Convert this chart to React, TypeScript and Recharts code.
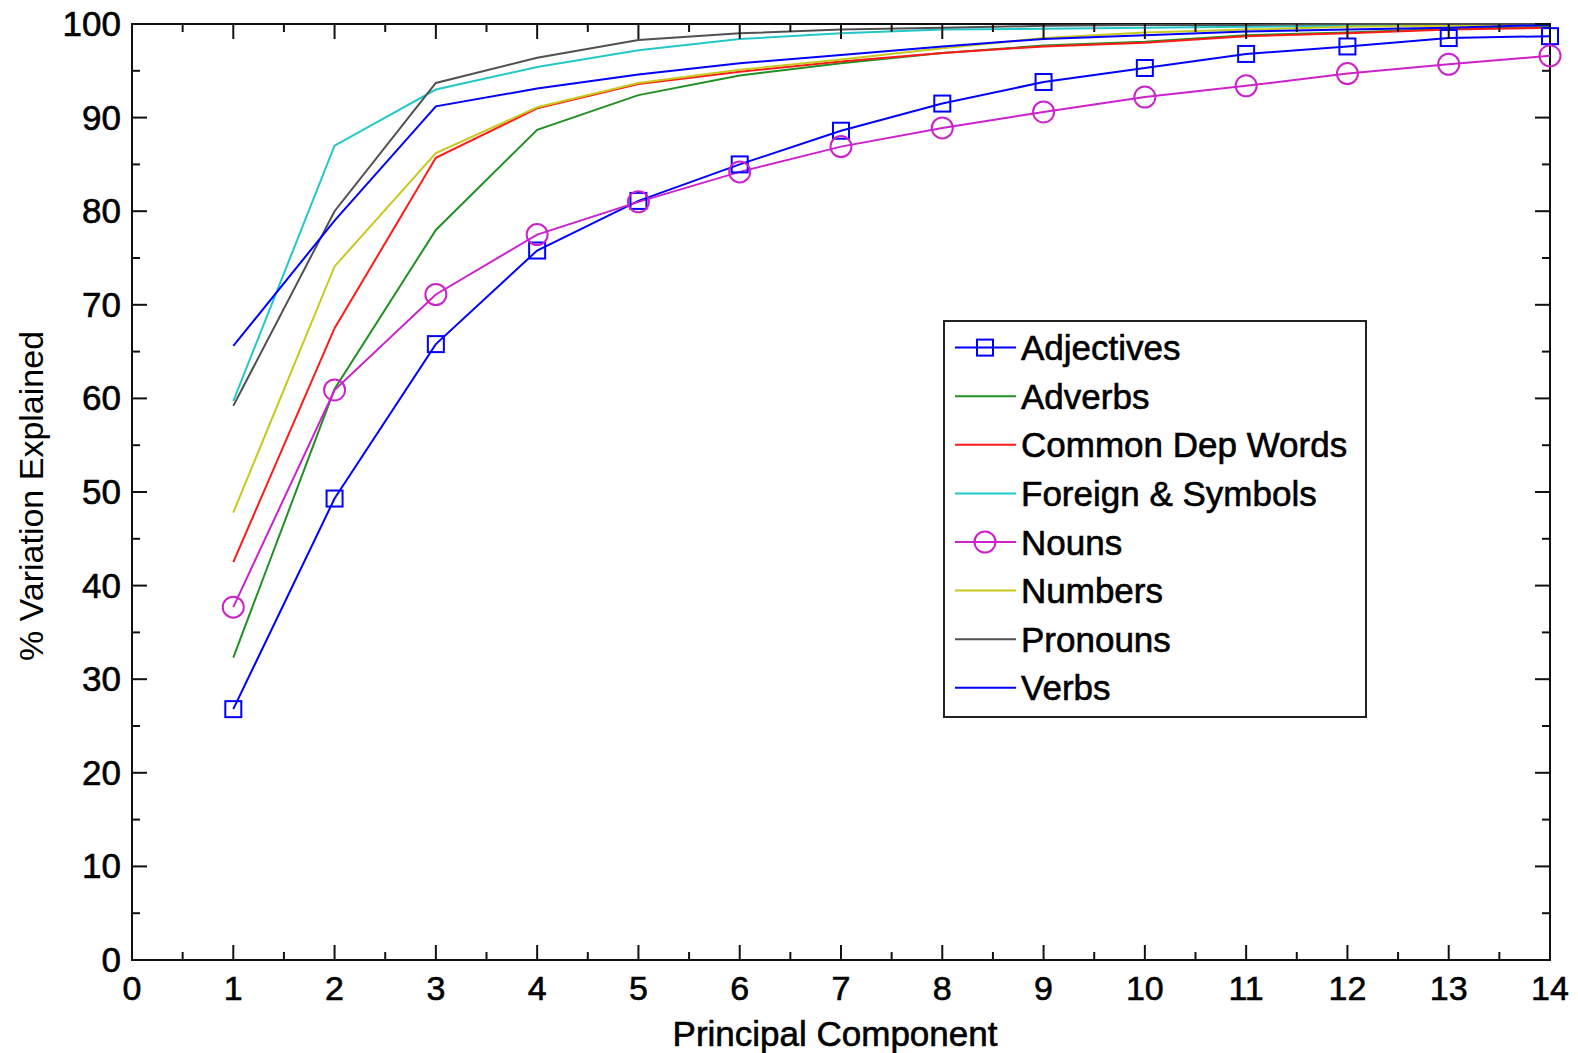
import React from 'react';
import { LineChart, Line, XAxis, YAxis, ReferenceArea, Legend } from 'recharts';

// ---- data ----
const components = [1, 2, 3, 4, 5, 6, 7, 8, 9, 10, 11, 12, 13, 14];
const adjectives = [26.8, 49.3, 65.8, 75.8, 81.1, 85.0, 88.6, 91.5, 93.8, 95.3, 96.8, 97.6, 98.5, 98.7];
const adverbs = [32.3, 61.0, 78.0, 88.7, 92.4, 94.5, 95.8, 96.9, 97.7, 98.1, 98.8, 99.1, 99.5, 99.7];
const commonDepWords = [42.5, 67.5, 85.7, 91.0, 93.6, 94.9, 96.0, 96.9, 97.6, 98.0, 98.7, 99.0, 99.4, 99.6];
const foreignSymbols = [59.7, 87.0, 93.0, 95.4, 97.2, 98.4, 99.0, 99.4, 99.5, 99.6, 99.7, 99.8, 99.9, 100];
const nouns = [37.7, 60.9, 71.1, 77.5, 81.0, 84.2, 86.9, 88.9, 90.6, 92.2, 93.4, 94.7, 95.7, 96.6];
const numbers = [47.8, 74.1, 86.2, 91.1, 93.7, 95.1, 96.2, 97.4, 98.5, 99.1, 99.4, 99.7, 99.8, 99.9];
const pronouns = [59.2, 80.0, 93.7, 96.4, 98.3, 99.0, 99.4, 99.6, 99.8, 99.9, 99.9, 100, 100, 100];
const verbs = [65.6, 79.0, 91.2, 93.1, 94.6, 95.8, 96.7, 97.6, 98.4, 98.8, 99.2, 99.4, 99.6, 99.9];

const seriesNames = ['Adjectives', 'Adverbs', 'Common Dep Words', 'Foreign & Symbols', 'Nouns', 'Numbers', 'Pronouns', 'Verbs'];
const seriesValues = [adjectives, adverbs, commonDepWords, foreignSymbols, nouns, numbers, pronouns, verbs];
const seriesColors = ['#0000ff', '#229022', '#ff1a1a', '#22c8c8', '#cc22cc', '#c8c820', '#505050', '#0000ff'];
const seriesMarkers = ['square', 'none', 'none', 'none', 'circle', 'none', 'none', 'none'];

const xMajorTicks = [0, 1, 2, 3, 4, 5, 6, 7, 8, 9, 10, 11, 12, 13, 14];
const xMinorTicks = [0.5, 1.5, 2.5, 3.5, 4.5, 5.5, 6.5, 7.5, 8.5, 9.5, 10.5, 11.5, 12.5, 13.5];
const yMajorTicks = [0, 10, 20, 30, 40, 50, 60, 70, 80, 90, 100];
const yMinorTicks = [5, 15, 25, 35, 45, 55, 65, 75, 85, 95];

const xLabel = 'Principal Component';
const yLabel = '% Variation Explained';

// ---- build table ----
const data = components.map((pc, i) => {
  const row: Record<string, number> = { pc };
  seriesNames.forEach((name, k) => {
    row[name] = seriesValues[k][i];
  });
  return row;
});
const series = seriesNames.map((name, k) => ({ name, color: seriesColors[k], marker: seriesMarkers[k] }));

// ---- layout ----
const W = 1578;
const H = 1053;
const MARGIN = { top: 24, right: 28, left: 0, bottom: 0 };
const Y_AXIS_W = 132;
const X_AXIS_H = 93;
const PLOT_TOP = MARGIN.top;
const PLOT_RIGHT = W - MARGIN.right;
const FONT = '"Liberation Sans", Arial, sans-serif';
const AXIS_COLOR = '#111';
const TEXT_STROKE = 0.6;

const isMajorX = (v: number) => xMajorTicks.includes(v);
const isMajorY = (v: number) => yMajorTicks.includes(v);

const XTick = (props: any) => {
  const { x, y, payload } = props;
  const v = payload.value;
  const major = isMajorX(v);
  const len = major ? 15 : 8;
  return (
    <g>
      <line x1={x} y1={y} x2={x} y2={y - len} stroke={AXIS_COLOR} strokeWidth={2} />
      <line x1={x} y1={PLOT_TOP} x2={x} y2={PLOT_TOP + len} stroke={AXIS_COLOR} strokeWidth={2} />
      {major && (
        <text x={x} y={y + 40} textAnchor="middle" fontSize={34} fontFamily={FONT} fill="#000" stroke="#000" strokeWidth={TEXT_STROKE}>
          {v}
        </text>
      )}
    </g>
  );
};

const YTick = (props: any) => {
  const { x, y, payload } = props;
  const v = payload.value;
  const major = isMajorY(v);
  const len = major ? 15 : 8;
  return (
    <g>
      <line x1={x} y1={y} x2={x + len} y2={y} stroke={AXIS_COLOR} strokeWidth={2} />
      <line x1={PLOT_RIGHT} y1={y} x2={PLOT_RIGHT - len} y2={y} stroke={AXIS_COLOR} strokeWidth={2} />
      {major && (
        <text x={x - 11} y={y + 12} textAnchor="end" fontSize={35} fontFamily={FONT} fill="#000" stroke="#000" strokeWidth={TEXT_STROKE}>
          {v}
        </text>
      )}
    </g>
  );
};

const SquareDot = (color: string) => (props: any) => {
  const { cx, cy, index } = props;
  if (cx == null || cy == null) return <g key={index} />;
  const s = 16;
  return <rect key={index} x={cx - s / 2} y={cy - s / 2} width={s} height={s} fill="none" stroke={color} strokeWidth={2} />;
};

const CircleDot = (color: string) => (props: any) => {
  const { cx, cy, index } = props;
  if (cx == null || cy == null) return <g key={index} />;
  return <circle key={index} cx={cx} cy={cy} r={10.5} fill="none" stroke={color} strokeWidth={2} />;
};

const LEG_W = 424;
const LEG_H = 398;

const LegendBox = () => (
  <svg width={LEG_W} height={LEG_H} style={{ display: 'block' }}>
    <rect x={1} y={1} width={LEG_W - 2} height={LEG_H - 2} fill="#fff" stroke="#222" strokeWidth={2} />
    {series.map((s, i) => {
      const cy = 27.6 + i * 48.6;
      const mx = 42;
      return (
        <g key={s.name}>
          <line x1={12} x2={73} y1={cy} y2={cy} stroke={s.color} strokeWidth={2} />
          {s.marker === 'square' && (
            <rect x={mx - 8} y={cy - 8} width={16} height={16} fill="none" stroke={s.color} strokeWidth={2} />
          )}
          {s.marker === 'circle' && <circle cx={mx} cy={cy} r={10.5} fill="none" stroke={s.color} strokeWidth={2} />}
          <text x={78} y={cy + 12.5} fontSize={35} fontFamily={FONT} fill="#000" stroke="#000" strokeWidth={TEXT_STROKE}>
            {s.name}
          </text>
        </g>
      );
    })}
  </svg>
);

export default function App() {
  return (
    <div style={{ position: 'absolute', left: 0, top: 0, width: W, height: H, background: '#fff' }}>
      <LineChart width={W} height={H} data={data} margin={MARGIN}>
        <ReferenceArea x1={0} x2={14} y1={0} y2={100} fill="#fff" fillOpacity={0} stroke={AXIS_COLOR} strokeWidth={2} />
        <XAxis
          dataKey="pc"
          type="number"
          domain={[0, 14]}
          ticks={[...xMajorTicks, ...xMinorTicks].sort((a, b) => a - b)}
          interval={0}
          allowDecimals
          height={X_AXIS_H}
          tickSize={0}
          tickMargin={0}
          tickLine={false}
          axisLine={false}
          tick={<XTick />}
        />
        <YAxis
          type="number"
          domain={[0, 100]}
          ticks={[...yMajorTicks, ...yMinorTicks].sort((a, b) => a - b)}
          interval={0}
          width={Y_AXIS_W}
          tickSize={0}
          tickMargin={0}
          tickLine={false}
          axisLine={false}
          tick={<YTick />}
        />
        {series.map((s) => (
          <Line
            key={s.name}
            type="linear"
            dataKey={s.name}
            stroke={s.color}
            strokeWidth={2}
            isAnimationActive={false}
            activeDot={false}
            dot={s.marker === 'square' ? SquareDot(s.color) : s.marker === 'circle' ? CircleDot(s.color) : false}
          />
        ))}
        <Legend
          layout="vertical"
          align="center"
          verticalAlign="middle"
          content={() => <LegendBox />}
          wrapperStyle={{ left: 943, top: 320, width: LEG_W, height: LEG_H, right: 'auto', bottom: 'auto' }}
        />
        <text x={835} y={1046} textAnchor="middle" fontSize={35} fontFamily={FONT} fill="#000" stroke="#000" strokeWidth={TEXT_STROKE}>
          {xLabel}
        </text>
        <text
          x={43}
          y={496}
          transform="rotate(-90, 43, 496)"
          textAnchor="middle"
          fontSize={34}
          fontFamily={FONT}
          fill="#000"
        >
          {yLabel}
        </text>
      </LineChart>
    </div>
  );
}
